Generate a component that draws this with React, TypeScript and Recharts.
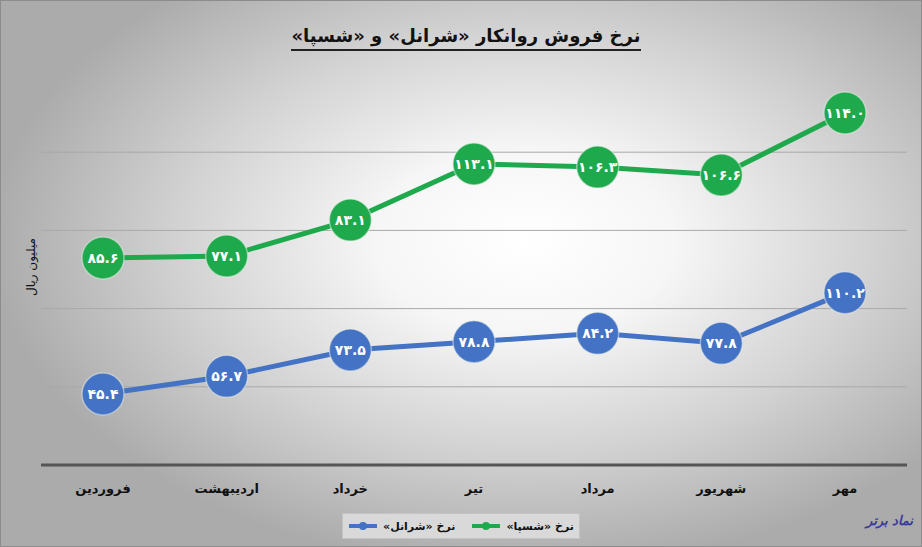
import React from "react";
import { LineChart, Line, XAxis, YAxis, CartesianGrid } from "recharts";

const months = ["فروردین", "اردیبهشت", "خرداد", "تیر", "مرداد", "شهریور", "مهر"];
// نرخ «شرانل» (plotted on the same scale as the labels)
const shranolValues = [45.4, 56.7, 73.5, 78.8, 84.2, 77.8, 110.2];
// نرخ «شسپا» label values, as printed
const shaspaLabels = [85.6, 77.1, 83.1, 113.1, 106.3, 106.6, 114.0];
// heights of the green markers as they sit on the chart's axis
const shaspaLevels = [132.4, 133.6, 156.6, 192.5, 190.5, 185.4, 225.1];
const gridValues = [50, 100, 150, 200];

const BLUE = "#4472c4";
const GREEN = "#1fa94d";
const FONT = "'DejaVu Sans', sans-serif";

const toFa = (n: number) =>
  n.toFixed(1).replace(/[0-9]/g, (d) => "۰۱۲۳۴۵۶۷۸۹"[Number(d)]);

const data = months.map((m, i) => ({
  month: m,
  shranol: shranolValues[i],
  shaspa: shaspaLevels[i],
}));

const makeDot = (color: string, labels: number[]) => (props: any) => {
  const { cx, cy, index } = props;
  return (
    <g key={`dot-${color}-${index}`}>
      <circle cx={cx} cy={cy} r={21} fill={color} stroke="#e8f0e8" strokeOpacity={0.5} strokeWidth={1.5} />
      <text
        x={cx}
        y={cy + 5}
        textAnchor="middle"
        fill="#ffffff"
        fontFamily={FONT}
        fontWeight="bold"
        fontSize={14}
      >
        {toFa(labels[index])}
      </text>
    </g>
  );
};

const MonthTick = (props: any) => {
  const { x, y, payload } = props;
  return (
    <text x={x} y={y + 20} textAnchor="middle" fill="#111" fontFamily={FONT} fontWeight="bold" fontSize={13}>
      {payload.value}
    </text>
  );
};

const LegendItem = ({ color, label }: { color: string; label: string }) => (
  <div style={{ display: "flex", alignItems: "center", gap: 5, whiteSpace: "nowrap" }}>
    <span style={{ fontWeight: "bold", fontSize: 11 }}>{label}</span>
    <svg width={30} height={10}>
      <line x1={1} y1={5} x2={29} y2={5} stroke={color} strokeWidth={4} />
      <circle cx={15} cy={5} r={4} fill={color} />
    </svg>
  </div>
);

export default function App() {
  return (
    <div
      style={{
        position: "absolute",
        left: 0,
        top: 0,
        width: 922,
        height: 547,
        boxSizing: "border-box",
        border: "1px solid #8c8c8c",
        background:
          "radial-gradient(ellipse 58% 60% at 57% 44%, #ffffff 0%, #f6f6f6 28%, #d2d2d2 65%, #ababab 100%)",
        fontFamily: FONT,
        overflow: "hidden",
      }}
    >
      <div
        style={{
          position: "absolute",
          top: 24,
          left: 4,
          width: 922,
          textAlign: "center",
          direction: "rtl",
          fontWeight: "bold",
          fontSize: 18,
          color: "#111",
        }}
      >
        <span style={{ borderBottom: "2px solid #222", paddingBottom: 3 }}>
          نرخ فروش روانکار «شرانل» و «شسپا»
        </span>
      </div>
      <div
        style={{
          position: "absolute",
          left: 30,
          top: 266,
          transform: "translate(-50%, -50%) rotate(-90deg)",
          fontSize: 12,
          color: "#111",
          whiteSpace: "nowrap",
          direction: "rtl",
        }}
      >
        میلیون ریال
      </div>
      <LineChart
        width={920}
        height={545}
        data={data}
        margin={{ top: 73, right: 14, left: 40, bottom: 51 }}
        style={{ position: "absolute", left: 0, top: 0 }}
      >
        <CartesianGrid vertical={false} stroke="#a9a9a9" strokeWidth={1} horizontalValues={gridValues} />
        <YAxis hide domain={[0, 250]} ticks={gridValues} />
        <XAxis
          dataKey="month"
          interval={0}
          padding={{ left: 62, right: 62 }}
          axisLine={{ stroke: "#555", strokeWidth: 3 }}
          tickLine={false}
          tick={<MonthTick />}
          height={30}
        />
        <Line
          dataKey="shranol"
          stroke={BLUE}
          strokeWidth={5}
          dot={makeDot(BLUE, shranolValues)}
          activeDot={false}
          isAnimationActive={false}
        />
        <Line
          dataKey="shaspa"
          stroke={GREEN}
          strokeWidth={5}
          dot={makeDot(GREEN, shaspaLabels)}
          activeDot={false}
          isAnimationActive={false}
        />
      </LineChart>
      <div
        style={{
          position: "absolute",
          left: 341,
          top: 512,
          width: 238,
          height: 26,
          background: "#d9d9d9",
          border: "1px solid #c4c4c4",
          boxSizing: "border-box",
          display: "flex",
          justifyContent: "center",
          alignItems: "center",
          gap: 16,
          direction: "rtl",
          color: "#111",
        }}
      >
        <LegendItem color={GREEN} label="نرخ «شسپا»" />
        <LegendItem color={BLUE} label="نرخ «شرانل»" />
      </div>
      <div
        style={{
          position: "absolute",
          right: 8,
          top: 512,
          direction: "rtl",
          color: "#3a3a9c",
          fontWeight: "bold",
          fontSize: 13,
          fontStyle: "italic",
        }}
      >
        نماد برتر
      </div>
    </div>
  );
}
